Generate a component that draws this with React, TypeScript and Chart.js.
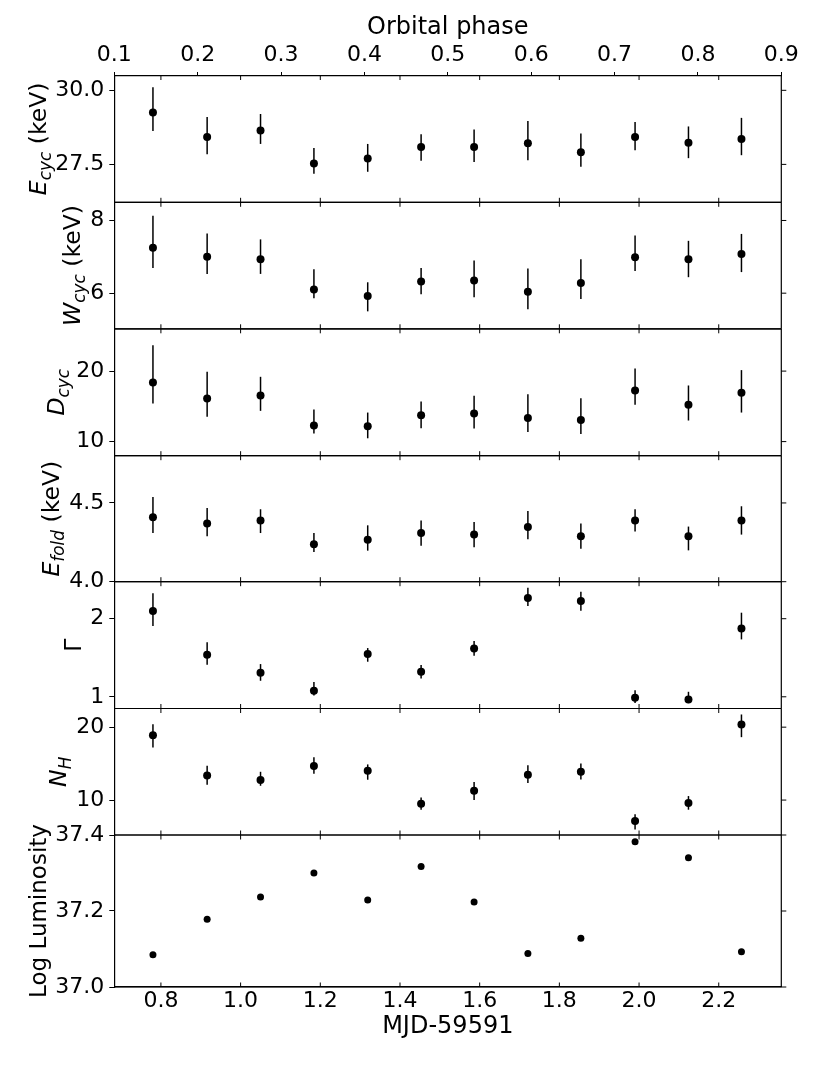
import React, { useEffect, useRef } from 'react';
import { Chart, registerables } from 'chart.js';

Chart.register(...registerables);

// ---------------- DATA ----------------
const mjd = [0.780, 0.916, 1.050, 1.184, 1.319, 1.453, 1.586, 1.721, 1.854, 1.990, 2.124, 2.257];

const eCyc = [29.25, 28.42, 28.64, 27.53, 27.70, 28.09, 28.09, 28.21, 27.91, 28.42, 28.23, 28.36];
const eCycLo = [28.63, 27.84, 28.19, 27.18, 27.25, 27.62, 27.58, 27.64, 27.42, 27.98, 27.71, 27.81];
const eCycHi = [30.10, 29.10, 29.20, 28.05, 28.19, 28.52, 28.68, 28.96, 28.54, 28.93, 28.78, 29.07];

const wCyc = [7.25, 7.00, 6.93, 6.10, 5.92, 6.32, 6.35, 6.04, 6.28, 6.99, 6.93, 7.08];
const wCycLo = [6.69, 6.53, 6.53, 5.86, 5.50, 5.97, 5.89, 5.56, 5.84, 6.61, 6.44, 6.58];
const wCycHi = [8.13, 7.64, 7.48, 6.66, 6.30, 6.69, 6.90, 6.68, 6.93, 7.59, 7.44, 7.63];

const dCyc = [18.39, 16.11, 16.54, 12.27, 12.18, 13.74, 13.98, 13.36, 13.08, 17.25, 15.21, 16.92];
const dCycLo = [15.40, 13.51, 14.36, 11.14, 10.47, 11.90, 11.85, 11.37, 11.09, 15.21, 12.99, 14.12];
const dCycHi = [23.65, 19.91, 19.19, 14.55, 14.12, 15.69, 16.49, 16.73, 16.16, 20.38, 17.96, 20.14];

const eFold = [4.409, 4.369, 4.388, 4.237, 4.267, 4.309, 4.299, 4.347, 4.288, 4.388, 4.288, 4.388];
const eFoldLo = [4.309, 4.288, 4.309, 4.189, 4.197, 4.229, 4.218, 4.269, 4.210, 4.318, 4.199, 4.299];
const eFoldHi = [4.538, 4.468, 4.460, 4.309, 4.358, 4.388, 4.379, 4.449, 4.369, 4.460, 4.350, 4.479];

const gamma = [2.098, 1.538, 1.308, 1.077, 1.547, 1.321, 1.620, 2.265, 2.226, 0.987, 0.966, 1.876];
const gammaLo = [1.906, 1.410, 1.205, 1.017, 1.449, 1.235, 1.526, 2.162, 2.103, 0.919, 0.919, 1.735];
const gammaHi = [2.325, 1.697, 1.419, 1.188, 1.624, 1.406, 1.714, 2.397, 2.346, 1.085, 1.064, 2.077];

const nH = [18.90, 13.38, 12.74, 14.66, 14.02, 9.50, 11.28, 13.47, 13.88, 7.12, 9.59, 20.37];
const nHLo = [17.21, 12.10, 11.96, 13.61, 12.79, 8.68, 10.00, 12.33, 12.83, 5.98, 8.68, 18.63];
const nHHi = [20.41, 14.70, 13.88, 15.89, 14.89, 10.37, 12.47, 14.79, 15.02, 8.04, 10.55, 21.74];

const logL = [37.085, 37.178, 37.237, 37.300, 37.229, 37.317, 37.224, 37.088, 37.128, 37.382, 37.340, 37.093];

const mjdTicks = [0.8, 1.0, 1.2, 1.4, 1.6, 1.8, 2.0, 2.2];
const mjdTickLabels = ['0.8', '1.0', '1.2', '1.4', '1.6', '1.8', '2.0', '2.2'];
const phaseTicks = [0.1, 0.2, 0.3, 0.4, 0.5, 0.6, 0.7, 0.8, 0.9];
const phaseTickLabels = ['0.1', '0.2', '0.3', '0.4', '0.5', '0.6', '0.7', '0.8', '0.9'];

const eCycTicks = [27.5, 30.0];
const eCycTickLabels = ['27.5', '30.0'];
const wCycTicks = [6, 8];
const wCycTickLabels = ['6', '8'];
const dCycTicks = [10, 20];
const dCycTickLabels = ['10', '20'];
const eFoldTicks = [4.0, 4.5];
const eFoldTickLabels = ['4.0', '4.5'];
const gammaTicks = [1, 2];
const gammaTickLabels = ['1', '2'];
const nHTicks = [10, 20];
const nHTickLabels = ['10', '20'];
const logLTicks = [37.0, 37.2, 37.4];
const logLTickLabels = ['37.0', '37.2', '37.4'];

const xLabel = 'MJD-59591';
const topLabel = 'Orbital phase';

// ---------------- LAYOUT / STYLE ----------------
const FONT = 'DejaVu Sans';
const W = 814;
const H = 1085;
const AREA_RIGHT = 781.3;
const AREA_LEFT = 114.3;
const AREA_TOP = 75.5;
const AREA_BOTTOM = 987;
const TITLE_SIZE = 24;
const YLABEL_SIZE = 23.5;

type Part = { t: string; it?: boolean; sub?: boolean };

// panels listed top to bottom
const panels = [
  { id: 'yEcyc', values: eCyc, lo: eCycLo, hi: eCycHi, min: 26.22, max: 30.5, ticks: eCycTicks, tickLabels: eCycTickLabels, weight: 126.8, radius: 4,
    label: [{ t: 'E', it: true }, { t: 'cyc', it: true, sub: true }, { t: ' (keV)' }] as Part[], labelX: 46, labelSize: YLABEL_SIZE },
  { id: 'yWcyc', values: wCyc, lo: wCycLo, hi: wCycHi, min: 5.02, max: 8.5, ticks: wCycTicks, tickLabels: wCycTickLabels, weight: 126.5, radius: 4,
    label: [{ t: 'W', it: true }, { t: 'cyc', it: true, sub: true }, { t: ' (keV)' }] as Part[], labelX: 80, labelSize: YLABEL_SIZE },
  { id: 'yDcyc', values: dCyc, lo: dCycLo, hi: dCycHi, min: 8.0, max: 26.0, ticks: dCycTicks, tickLabels: dCycTickLabels, weight: 126.9, radius: 4,
    label: [{ t: 'D', it: true }, { t: 'cyc', it: true, sub: true }] as Part[], labelX: 64, labelSize: YLABEL_SIZE },
  { id: 'yEfold', values: eFold, lo: eFoldLo, hi: eFoldHi, min: 4.0, max: 4.8, ticks: eFoldTicks, tickLabels: eFoldTickLabels, weight: 126.0, radius: 4,
    label: [{ t: 'E', it: true }, { t: 'fold', it: true, sub: true }, { t: ' (keV)' }] as Part[], labelX: 59, labelSize: YLABEL_SIZE },
  { id: 'yGamma', values: gamma, lo: gammaLo, hi: gammaHi, min: 0.85, max: 2.474, ticks: gammaTicks, tickLabels: gammaTickLabels, weight: 126.8, radius: 4,
    label: [{ t: 'Γ' }] as Part[], labelX: 81, labelSize: YLABEL_SIZE },
  { id: 'yNH', values: nH, lo: nHLo, hi: nHHi, min: 5.21, max: 22.56, ticks: nHTicks, tickLabels: nHTickLabels, weight: 126.5, radius: 4,
    label: [{ t: 'N', it: true }, { t: 'H', it: true, sub: true }] as Part[], labelX: 66, labelSize: YLABEL_SIZE },
  { id: 'yLogL', values: logL, lo: null as number[] | null, hi: null as number[] | null, min: 37.0, max: 37.4, ticks: logLTicks, tickLabels: logLTickLabels, weight: 152, radius: 3.5,
    label: [{ t: 'Log Luminosity' }] as Part[], labelX: 46, labelSize: 23 },
];

function line(ctx: CanvasRenderingContext2D, x1: number, y1: number, x2: number, y2: number) {
  ctx.beginPath();
  ctx.moveTo(x1, y1);
  ctx.lineTo(x2, y2);
  ctx.stroke();
}

const errorBarPlugin = {
  id: 'errorBars',
  beforeDatasetsDraw(chart: any) {
    const ctx = chart.ctx as CanvasRenderingContext2D;
    const xs = chart.scales.x;
    ctx.save();
    ctx.strokeStyle = '#000';
    ctx.lineWidth = 1.5;
    for (const p of panels) {
      if (!p.lo || !p.hi) continue;
      const ys = chart.scales[p.id];
      for (let i = 0; i < mjd.length; i++) {
        const x = xs.getPixelForValue(mjd[i]);
        line(ctx, x, ys.getPixelForValue(p.lo[i]), x, ys.getPixelForValue(p.hi[i]));
      }
    }
    ctx.restore();
  },
};

const framePlugin = {
  id: 'frames',
  afterDraw(chart: any) {
    const ctx = chart.ctx as CanvasRenderingContext2D;
    const { left, right } = chart.chartArea;
    const xs = chart.scales.x;
    ctx.save();
    ctx.strokeStyle = '#000';
    for (const p of panels) {
      const s = chart.scales[p.id];
      ctx.lineWidth = 1.2;
      line(ctx, left, s.top, right, s.top);
      line(ctx, left, s.bottom, right, s.bottom);
      line(ctx, right, s.top, right, s.bottom);
      ctx.lineWidth = 1;
      for (const v of p.ticks) {
        const y = s.getPixelForValue(v);
        line(ctx, right, y, right + 5, y);
      }
      for (const v of mjdTicks) {
        const x = xs.getPixelForValue(v);
        line(ctx, x, s.top, x, s.top + 4.5);
        line(ctx, x, s.bottom, x, s.bottom - 4.5);
      }
    }
    // y labels (rotated, with subscripts)
    ctx.fillStyle = '#000';
    for (const p of panels) {
      const s = chart.scales[p.id];
      const size = p.labelSize;
      const subSize = size * 0.72;
      const fontFor = (part: Part) =>
        `${part.it ? 'italic ' : ''}${part.sub ? subSize : size}px "${FONT}"`;
      let total = 0;
      for (const part of p.label) {
        ctx.font = fontFor(part);
        total += ctx.measureText(part.t).width;
      }
      const cy = (s.top + s.bottom) / 2;
      ctx.save();
      ctx.translate(p.labelX, cy);
      ctx.rotate(-Math.PI / 2);
      ctx.textBaseline = 'alphabetic';
      ctx.textAlign = 'left';
      let cx = -total / 2;
      for (const part of p.label) {
        ctx.font = fontFor(part);
        ctx.fillText(part.t, cx, part.sub ? size * 0.22 : 0);
        cx += ctx.measureText(part.t).width;
      }
      ctx.restore();
    }
    ctx.restore();
  },
};

export default function App() {
  const ref = useRef<HTMLCanvasElement | null>(null);

  useEffect(() => {
    if (!ref.current) return;
    Chart.defaults.font.family = FONT;
    Chart.defaults.color = '#000';

    const scales: any = {
      x: {
        type: 'linear',
        position: 'bottom',
        min: 0.683,
        max: 2.357,
        afterBuildTicks: (s: any) => { s.ticks = mjdTicks.map((v) => ({ value: v })); },
        afterFit: (s: any) => { s.height = H - AREA_BOTTOM; },
        ticks: {
          autoSkip: false,
          maxRotation: 0,
          padding: 1.5,
          font: { size: 22, family: FONT },
          color: '#000',
          callback: (v: number) => mjdTickLabels[mjdTicks.findIndex((t) => Math.abs(t - v) < 1e-6)] ?? '',
        },
        grid: { drawOnChartArea: false, drawTicks: false },
        border: { display: true, color: '#000', width: 1.2 },
        title: { display: true, text: xLabel, font: { size: TITLE_SIZE, family: FONT }, color: '#000', padding: { top: 0, bottom: 43.9 } },
      },
      x2: {
        type: 'linear',
        position: 'top',
        min: 0.1,
        max: 0.9,
        afterBuildTicks: (s: any) => { s.ticks = phaseTicks.map((v) => ({ value: v })); },
        afterFit: (s: any) => { s.height = AREA_TOP; },
        ticks: {
          autoSkip: false,
          maxRotation: 0,
          padding: 3.7,
          font: { size: 22, family: FONT },
          color: '#000',
          callback: (v: number) => phaseTickLabels[phaseTicks.findIndex((t) => Math.abs(t - v) < 1e-6)] ?? '',
        },
        grid: { drawOnChartArea: false, drawTicks: true, tickLength: 3.5, color: '#000' },
        border: { display: true, color: '#000', width: 1.2 },
        title: { display: true, text: topLabel, font: { size: TITLE_SIZE, family: FONT }, color: '#000', padding: { top: 13.3, bottom: 0 } },
      },
    };

    // y scales from the bottom panel to the top one (last defined is stacked on top)
    for (const p of [...panels].reverse()) {
      scales[p.id] = {
        type: 'linear',
        position: 'left',
        stack: 'panels',
        stackWeight: p.weight,
        min: p.min,
        max: p.max,
        afterBuildTicks: (s: any) => { s.ticks = p.ticks.map((v) => ({ value: v })); },
        afterFit: (s: any) => { s.width = AREA_LEFT; },
        ticks: {
          padding: 5,
          font: { size: 22, family: FONT },
          color: '#000',
          callback: (v: number) => p.tickLabels[p.ticks.findIndex((t) => Math.abs(t - v) < 1e-6)] ?? '',
        },
        grid: { drawOnChartArea: false, drawTicks: true, tickLength: 5, color: '#000' },
        border: { display: true, color: '#000', width: 1.2 },
      };
    }

    const datasets = panels.map((p) => ({
      label: p.id,
      data: mjd.map((x, i) => ({ x, y: p.values[i] })),
      xAxisID: 'x',
      yAxisID: p.id,
      pointRadius: p.radius,
      pointBackgroundColor: '#000',
      pointBorderWidth: 0,
      showLine: false,
    }));

    const chart = new Chart(ref.current, {
      type: 'scatter',
      data: { datasets },
      options: {
        responsive: false,
        animation: false,
        devicePixelRatio: 1,
        events: [],
        layout: { padding: { left: 0, right: W - AREA_RIGHT, top: 0, bottom: 0 } },
        plugins: { legend: { display: false }, tooltip: { enabled: false }, title: { display: false } },
        scales,
      } as any,
      plugins: [errorBarPlugin, framePlugin],
    });
    return () => chart.destroy();
  }, []);

  return (
    <div style={{ position: 'fixed', left: 0, top: 0, width: W, height: H, background: '#fff' }}>
      <canvas ref={ref} width={W} height={H} style={{ display: 'block', width: W, height: H }} />
    </div>
  );
}
